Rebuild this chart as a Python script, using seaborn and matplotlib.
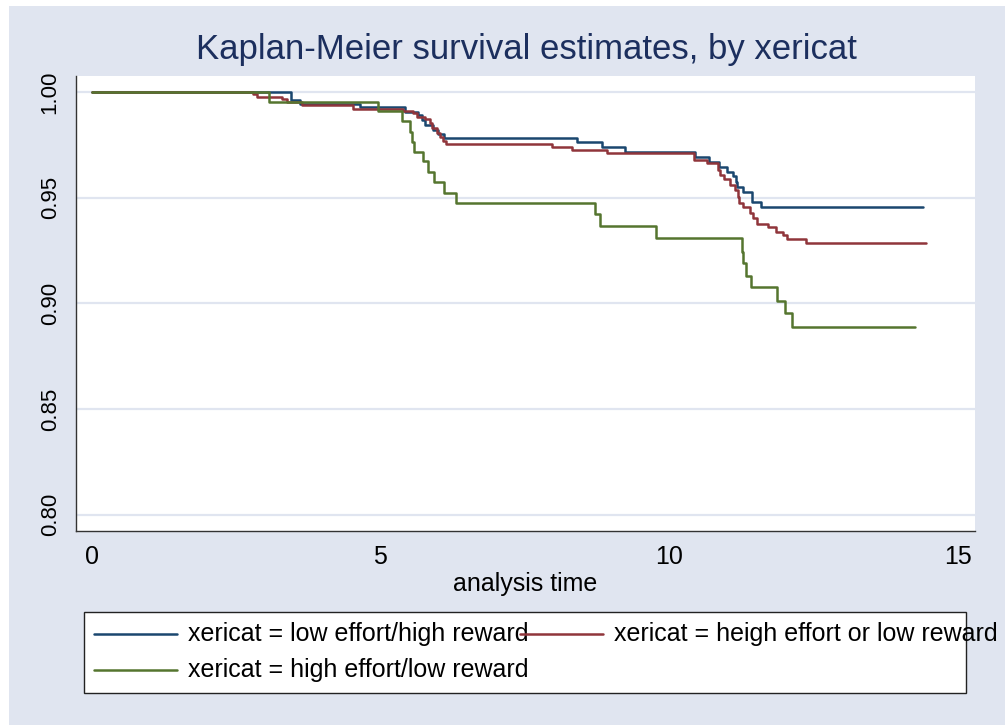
import matplotlib

matplotlib.use("Agg")
import matplotlib.pyplot as plt
import pandas as pd
import seaborn as sns
from matplotlib.lines import Line2D
from matplotlib.patches import Rectangle

# Kaplan-Meier step estimates, one group at a time
GROUPS = [
    "xericat = low effort/high reward",
    "xericat = heigh effort or low reward",
    "xericat = high effort/low reward",
]
COLORS = ["#1A476F", "#90353B", "#55752F"]

low_high_time = [0, 3.45, 3.61, 4.65, 5.425, 5.656, 5.714, 5.771, 5.905, 6.0, 6.10,
                 8.40, 8.83, 9.235, 10.447, 10.695, 10.868, 11.006, 11.1, 11.157,
                 11.18, 11.273, 11.43, 11.585, 14.39]
low_high_surv = [1.0, 0.9962, 0.9945, 0.9927, 0.9905, 0.9891, 0.9868, 0.9844, 0.9820,
                 0.9801, 0.9781, 0.9763, 0.9741, 0.9717, 0.9694, 0.9670, 0.9647,
                 0.9623, 0.9603, 0.9576, 0.9552, 0.9528, 0.9481, 0.9454, 0.9454]

mixed_time = [0, 2.79, 2.87, 3.29, 3.39, 3.65, 4.52, 5.396, 5.57, 5.627, 5.771, 5.86,
              5.888, 5.974, 6.03, 6.09, 6.135, 7.965, 8.31, 8.93, 10.435, 10.66,
              10.85, 10.88, 10.95, 11.053, 11.14, 11.196, 11.214, 11.283, 11.4,
              11.456, 11.526, 11.716, 11.85, 11.976, 12.045, 12.369, 14.447]
mixed_surv = [1.0, 0.9990, 0.9978, 0.9965, 0.9951, 0.9937, 0.9921, 0.9910, 0.9899,
              0.9883, 0.9871, 0.9852, 0.9828, 0.9805, 0.9786, 0.9770, 0.9754, 0.9738,
              0.9724, 0.9713, 0.9678, 0.9663, 0.9631, 0.9607, 0.9587, 0.9560, 0.9536,
              0.9505, 0.9476, 0.9457, 0.9426, 0.9402, 0.9375, 0.9360, 0.9339, 0.9323,
              0.9303, 0.9284, 0.9284]

high_low_time = [0, 3.07, 4.96, 5.368, 5.512, 5.541, 5.587, 5.731, 5.829, 5.927, 6.10,
                 6.31, 8.715, 8.80, 9.77, 11.255, 11.283, 11.33, 11.417, 11.872,
                 12.005, 12.121, 14.256]
high_low_surv = [1.0, 0.9954, 0.9908, 0.9863, 0.9812, 0.9765, 0.9718, 0.9674, 0.9623,
                 0.9576, 0.9524, 0.9473, 0.9423, 0.9367, 0.9311, 0.9244, 0.9190,
                 0.9131, 0.9076, 0.9011, 0.8953, 0.8890, 0.8890]

y_ticks = [0.80, 0.85, 0.90, 0.95, 1.00]
x_ticks = [0, 5, 10, 15]

BG = "#E0E5F0"

frames = []
for name, t, s in zip(
    GROUPS,
    [low_high_time, mixed_time, high_low_time],
    [low_high_surv, mixed_surv, high_low_surv],
):
    frames.append(pd.DataFrame({"time": t, "surv": s, "group": name}))
df = pd.concat(frames, ignore_index=True)

sns.set_style("white")
plt.rcParams["font.family"] = ["Liberation Sans", "DejaVu Sans"]
plt.rcParams["text.color"] = "black"
plt.rcParams["axes.labelcolor"] = "black"

W, H = 1005, 725
fig = plt.figure(figsize=(W / 100, H / 100), dpi=100, facecolor="white")
fig.add_artist(Rectangle((9 / W, 0), 1 - 9 / W, 1 - 6 / H, transform=fig.transFigure,
                         facecolor=BG, edgecolor="none", zorder=-10))

ax = fig.add_axes([76 / W, 1 - 531 / H, (975 - 76) / W, (531 - 76) / H])
ax.set_facecolor("white")

sns.lineplot(data=df, x="time", y="surv", hue="group", hue_order=GROUPS,
             palette=COLORS, estimator=None, sort=False, drawstyle="steps-post",
             linewidth=1.8, legend=False, ax=ax)

ax.set_xlim(-0.272, 15.295)
ax.set_ylim(0.79229, 1.00757)
ax.set_yticks(y_ticks)
ax.set_yticklabels([f"{v:.2f}" for v in y_ticks], rotation=90, va="center")
ax.set_xticks(x_ticks)
ax.yaxis.grid(True, color=BG, linewidth=1.6)
ax.set_axisbelow(True)
for side in ["top", "right"]:
    ax.spines[side].set_visible(False)
for side in ["left", "bottom"]:
    ax.spines[side].set_color("#333333")
    ax.spines[side].set_linewidth(1.0)
ax.tick_params(axis="both", direction="out", length=7, width=1, color="#333333",
               labelcolor="black")
ax.tick_params(axis="y", pad=4, labelsize=16)
ax.tick_params(axis="x", pad=3, labelsize=18)
ax.set_xlabel("analysis time", fontsize=18, labelpad=2)
ax.set_ylabel("")

fig.text(526 / W, 1 - 50 / H, "Kaplan-Meier survival estimates, by xericat",
         ha="center", va="center", fontsize=25, color="#1C2F5E")

# Stata-style legend box below the plot
fig.add_artist(Rectangle((84 / W, 1 - 693 / H), (966 - 84) / W, (693 - 612) / H,
                         transform=fig.transFigure, facecolor="white",
                         edgecolor="#222222", linewidth=1.0, zorder=1))
entries = [(0, 94, 634), (1, 520, 634), (2, 94, 670)]
for i, x0, y0 in entries:
    fig.add_artist(Line2D([x0 / W, (x0 + 83) / W], [1 - y0 / H, 1 - y0 / H],
                          transform=fig.transFigure, color=COLORS[i], linewidth=1.8,
                          zorder=3))
    fig.text((x0 + 94) / W, 1 - y0 / H, GROUPS[i], ha="left", va="center",
             fontsize=18, zorder=2)

fig.savefig("out.png", dpi=100, facecolor=fig.get_facecolor())
